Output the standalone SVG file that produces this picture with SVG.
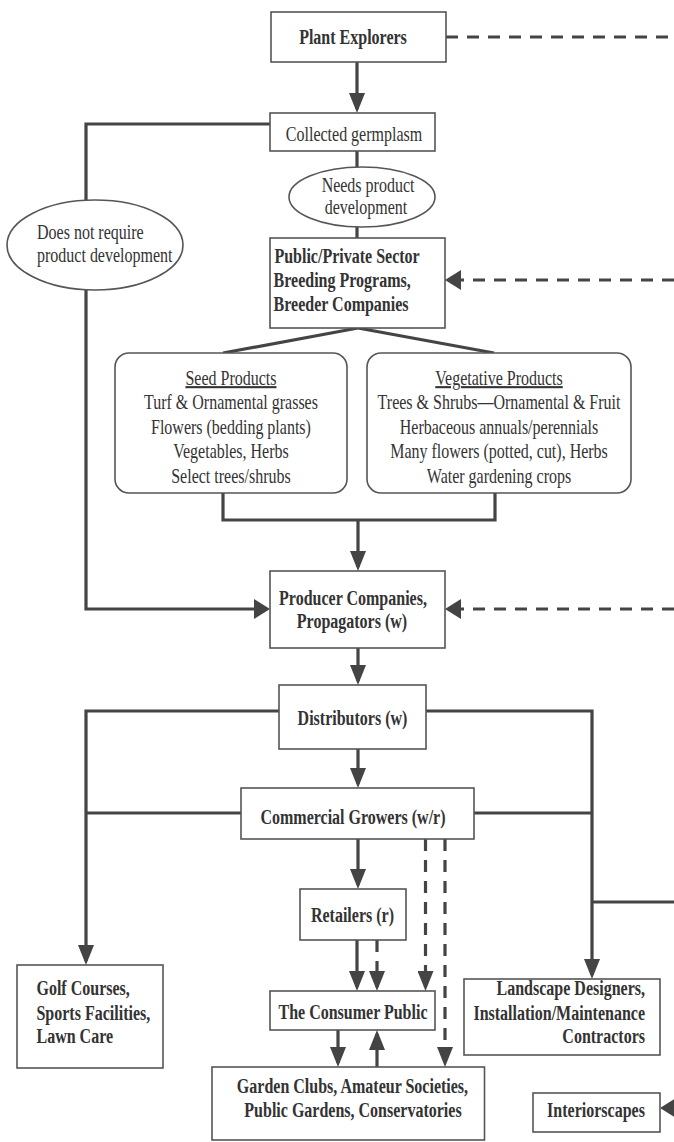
<svg xmlns="http://www.w3.org/2000/svg" width="674" height="1142" viewBox="0 0 674 1142">
<style>
  .box { fill: #fff; stroke: #555; stroke-width: 1.6; }
  .t { font-family: "Liberation Serif", "Times New Roman", serif; font-size: 20px; fill: #333; }
  .r { font-size: 21px; }
  .b { font-weight: bold; }
  .m { text-anchor: middle; }
  .e { text-anchor: end; }
  .c { fill: none; stroke: #444; stroke-width: 3.2; }
  .d { fill: none; stroke: #444; stroke-width: 3.2; stroke-dasharray: 12 9; }
</style>
<defs>
  <marker id="av" markerUnits="userSpaceOnUse" markerWidth="20" markerHeight="16" refX="16" refY="8" orient="auto">
    <path d="M0,0 L20,8 L0,16 Z" fill="#444"/>
  </marker>
  <marker id="ah" markerUnits="userSpaceOnUse" markerWidth="16" markerHeight="20" refX="12" refY="10" orient="auto">
    <path d="M0,0 L16,10 L0,20 Z" fill="#444"/>
  </marker>
</defs>
<rect width="674" height="1142" fill="#fff"/>

<g id="connectors">
  <path class="d" d="M446,37 H674"/>
  <path class="c" d="M357,62 V109" marker-end="url(#av)"/>
  <path class="c" d="M270,124 H86 V200"/>
  <path class="c" d="M86,290 V609 H266" marker-end="url(#ah)"/>
  <path class="c" d="M357,151 V167"/>
  <path class="c" d="M357,227 V238"/>
  <path class="d" d="M674,280 H449" marker-end="url(#ah)"/>
  <path class="c" d="M358,328 L223,353"/>
  <path class="c" d="M358,328 L494,353"/>
  <path class="c" d="M223,493 V520 H495 V493"/>
  <path class="c" d="M358,520 V567" marker-end="url(#av)"/>
  <path class="d" d="M674,609 H449" marker-end="url(#ah)"/>
  <path class="c" d="M358,648 V681" marker-end="url(#av)"/>
  <path class="c" d="M279,711 H86 V961" marker-end="url(#av)"/>
  <path class="c" d="M426,711 H592 V975" marker-end="url(#av)"/>
  <path class="c" d="M358,749 V784" marker-end="url(#av)"/>
  <path class="c" d="M241,813 H86"/>
  <path class="c" d="M474,813 H592"/>
  <path class="c" d="M592,902 H674"/>
  <path class="c" d="M358,839 V885" marker-end="url(#av)"/>
  <path class="c" d="M357,940 V987" marker-end="url(#av)"/>
  <path class="d" d="M377,940 V987" marker-end="url(#av)"/>
  <path class="d" d="M425.5,839 V987" marker-end="url(#av)"/>
  <path class="d" d="M445,839 V1063" marker-end="url(#av)"/>
  <path class="c" d="M338,1030 V1063" marker-end="url(#av)"/>
  <path class="c" d="M377,1067 V1034" marker-end="url(#av)"/>
  <path class="c" d="M690,1108 H664" marker-end="url(#ah)"/>
</g>

<g id="plant-explorers">
  <rect class="box" x="271" y="12" width="175" height="50"/>
  <text class="t b m" transform="scale(0.8 1)" x="441.25" y="44">Plant Explorers</text>
</g>

<g id="collected-germplasm">
  <rect class="box" x="270" y="113" width="165" height="38"/>
  <text class="t r m" transform="scale(0.762 1)" x="464.6" y="141">Collected germplasm</text>
</g>

<g id="needs-development">
  <ellipse class="box" cx="362" cy="197" rx="73" ry="30"/>
  <text class="t r m" transform="scale(0.762 1)" x="483" y="192">Needs product</text>
  <text class="t r m" transform="scale(0.762 1)" x="480.3" y="214">development</text>
</g>

<g id="no-development">
  <ellipse class="box" cx="95" cy="245" rx="88" ry="45"/>
  <text class="t r" transform="scale(0.762 1)" x="48.6" y="239">Does not require</text>
  <text class="t r" transform="scale(0.762 1)" x="48.6" y="262">product development</text>
</g>

<g id="breeding">
  <rect class="box" x="270" y="238" width="175" height="90"/>
  <text class="t b" transform="scale(0.8 1)" x="343" y="263">Public/Private Sector</text>
  <text class="t b" transform="scale(0.8 1)" x="342" y="287">Breeding Programs,</text>
  <text class="t b" transform="scale(0.8 1)" x="342" y="311">Breeder Companies</text>
</g>

<g id="seed-products">
  <rect class="box" x="115" y="353" width="232" height="140" rx="14"/>
  <text class="t r m" transform="scale(0.762 1)" x="303.1" y="385" text-decoration="underline">Seed Products</text>
  <text class="t r m" transform="scale(0.762 1)" x="303.1" y="409.5">Turf &amp; Ornamental grasses</text>
  <text class="t r m" transform="scale(0.762 1)" x="303.1" y="434">Flowers (bedding plants)</text>
  <text class="t r m" transform="scale(0.762 1)" x="303.1" y="458.5">Vegetables, Herbs</text>
  <text class="t r m" transform="scale(0.762 1)" x="303.1" y="483">Select trees/shrubs</text>
</g>

<g id="vegetative-products">
  <rect class="box" x="367" y="353" width="264" height="140" rx="14"/>
  <text class="t r m" transform="scale(0.762 1)" x="654.9" y="385" text-decoration="underline">Vegetative Products</text>
  <text class="t r m" transform="scale(0.762 1)" x="654.9" y="409.5">Trees &amp; Shrubs—Ornamental &amp; Fruit</text>
  <text class="t r m" transform="scale(0.762 1)" x="654.9" y="434">Herbaceous annuals/perennials</text>
  <text class="t r m" transform="scale(0.762 1)" x="654.9" y="458.5">Many flowers (potted, cut), Herbs</text>
  <text class="t r m" transform="scale(0.762 1)" x="654.9" y="483">Water gardening crops</text>
</g>

<g id="producers">
  <rect class="box" x="270" y="571" width="175" height="77"/>
  <text class="t b m" transform="scale(0.8 1)" x="441.25" y="605">Producer Companies,</text>
  <text class="t b m" transform="scale(0.8 1)" x="440" y="628">Propagators (w)</text>
</g>

<g id="distributors">
  <rect class="box" x="279" y="685" width="147" height="64"/>
  <text class="t b m" transform="scale(0.8 1)" x="440.6" y="725">Distributors (w)</text>
</g>

<g id="commercial-growers">
  <rect class="box" x="241" y="788" width="233" height="51"/>
  <text class="t b m" transform="scale(0.8 1)" x="441.25" y="824">Commercial Growers (w/r)</text>
</g>

<g id="retailers">
  <rect class="box" x="300" y="889" width="106" height="51"/>
  <text class="t b m" transform="scale(0.8 1)" x="440.6" y="922">Retailers (r)</text>
</g>

<g id="consumer-public">
  <rect class="box" x="270" y="991" width="165" height="39"/>
  <text class="t b m" transform="scale(0.8 1)" x="441.25" y="1019">The Consumer Public</text>
</g>

<g id="garden-clubs">
  <rect class="box" x="212" y="1067" width="272.5" height="73"/>
  <text class="t b m" transform="scale(0.8 1)" x="440.6" y="1093">Garden Clubs, Amateur Societies,</text>
  <text class="t b m" transform="scale(0.8 1)" x="441.25" y="1117">Public Gardens, Conservatories</text>
</g>

<g id="golf-courses">
  <rect class="box" x="17" y="965" width="146" height="103"/>
  <text class="t b" transform="scale(0.8 1)" x="45.6" y="995">Golf Courses,</text>
  <text class="t b" transform="scale(0.8 1)" x="45.6" y="1020">Sports Facilities,</text>
  <text class="t b" transform="scale(0.8 1)" x="45.6" y="1043">Lawn Care</text>
</g>

<g id="landscape">
  <rect class="box" x="464" y="979" width="196" height="76"/>
  <text class="t b e" transform="scale(0.8 1)" x="806.25" y="995">Landscape Designers,</text>
  <text class="t b e" transform="scale(0.8 1)" x="806.25" y="1020">Installation/Maintenance</text>
  <text class="t b e" transform="scale(0.8 1)" x="806.25" y="1043">Contractors</text>
</g>

<g id="interiorscapes">
  <rect class="box" x="533" y="1093" width="127" height="39"/>
  <text class="t b m" transform="scale(0.8 1)" x="745" y="1117">Interiorscapes</text>
</g>
</svg>
